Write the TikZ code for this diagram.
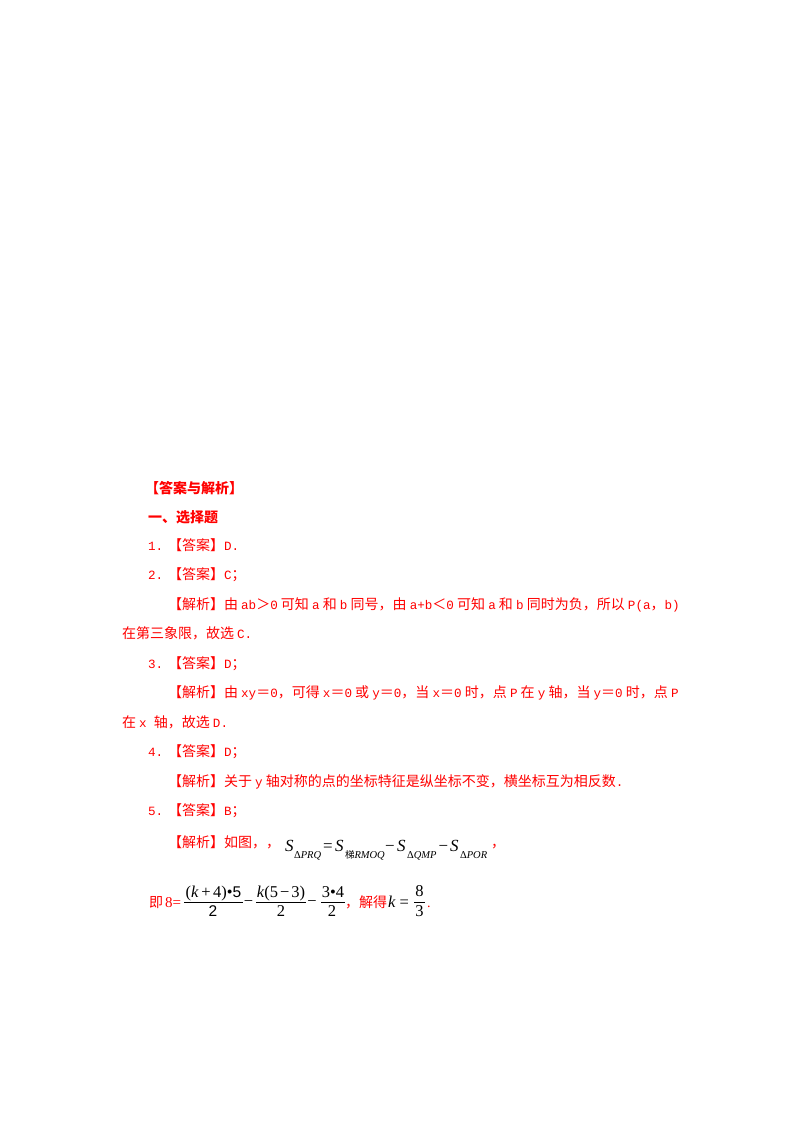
\documentclass[tikz,border=0pt]{standalone}
\usepackage{fontspec}
\setmainfont{Liberation Serif}
\newfontfamily\cjk{Noto Sans CJK SC}
\newfontfamily\latm[Scale=0.9]{Liberation Mono}
\newfontfamily\ars{Liberation Sans}
\newcommand\lt[1]{{\latm #1}}
\begin{document}
\begin{tikzpicture}[x=1pt,y=-1pt,
  txt/.style={anchor=base west,inner sep=0pt,outer sep=0pt,text=red,font=\cjk\fontsize{14}{16}\selectfont},
  hd/.style={txt,font=\cjk\bfseries\fontsize{14}{16}\selectfont},
  mth/.style={anchor=base,inner sep=0pt,outer sep=0pt,text=black,font=\rmfamily\fontsize{16.5}{18}\selectfont},
  bigs/.style={mth,anchor=base west,font=\rmfamily\itshape\fontsize{17}{19}\selectfont},
  subs/.style={mth,anchor=base west,font=\rmfamily\fontsize{10.5}{12}\selectfont},
  fbar/.style={line width=0.7pt,black}]
\useasboundingbox (0,0) rectangle (800,1132);
\fill[white] (0,0) rectangle (800,1132);
% headings
\node[hd] (h1) at (145,493) {【答案与解析】};
\node[hd] (h2) at (148,522) {一、选择题};
% 1
\node[txt] (n1) at (148,550) {\lt{1.}};
\node[txt] (a1) at (168,550) {【答案】\lt{D.}};
% 2
\node[txt] (n2) at (148,579.5) {\lt{2.}};
\node[txt] (a2) at (168,579.5) {【答案】\lt{C}；};
\node[txt] (j2) at (168,609) {【解析】由 \lt{ab}＞\lt{0} 可知 \lt{a} 和 \lt{b} 同号，由 \lt{a+b}＜\lt{0} 可知 \lt{a} 和 \lt{b} 同时为负，所以 \lt{P(a}，\lt{b)}};
\node[txt] (j2b) at (122,638.5) {在第三象限，故选 \lt{C.}};
% 3
\node[txt] (n3) at (148,668) {\lt{3.}};
\node[txt] (a3) at (168,668) {【答案】\lt{D}；};
\node[txt] (j3) at (168,697.5) {【解析】由 \lt{xy}＝\lt{0}，可得 \lt{x}＝\lt{0} 或 \lt{y}＝\lt{0}，当 \lt{x}＝\lt{0} 时，点 \lt{P} 在 \lt{y} 轴，当 \lt{y}＝\lt{0} 时，点 \lt{P}};
\node[txt] (j3b) at (122,727) {在 \lt{x}\hspace{4pt} 轴，故选 \lt{D.}};
% 4
\node[txt] (n4) at (148,756.5) {\lt{4.}};
\node[txt] (a4) at (168,756.5) {【答案】\lt{D}；};
\node[txt] (j4) at (168,786) {【解析】关于 \lt{y} 轴对称的点的坐标特征是纵坐标不变，横坐标互为相反数\lt{.}};
% 5
\node[txt] (n5) at (148,815.5) {\lt{5.}};
\node[txt] (a5) at (168,815.5) {【答案】\lt{B}；};
\node[txt] (j5) at (168,847) {【解析】如图，，};
% S formula
\node[bigs] (s1) at (285,851) {S};
\node[subs] (b1) at (294,858) {Δ\textit{PRQ}};
\node[mth,anchor=base west,font=\rmfamily\fontsize{17}{19}\selectfont] (e1) at (323,851) {=};
\node[bigs] (s2) at (335,851) {S};
\node[subs] (b2) at (345,858) {{\cjk\fontsize{9.5}{11}\selectfont 梯}\textit{RMOQ}};
\node[mth,anchor=base west,font=\rmfamily\fontsize{17}{19}\selectfont] (e2) at (385,851) {−};
\node[bigs] (s3) at (397,851) {S};
\node[subs] (b3) at (407,858) {Δ\textit{QMP}};
\node[mth,anchor=base west,font=\rmfamily\fontsize{17}{19}\selectfont] (e3) at (438.5,851) {−};
\node[bigs] (s4) at (450,851) {S};
\node[subs] (b4) at (460,858) {Δ\textit{POR}};
\node[txt] (c5) at (491,847) {，};
% last line
\node[txt] (ji) at (149,907) {即\hspace{2pt}{\rmfamily\fontsize{15}{16}\selectfont 8=}};
\node[mth] (fn1) at (213.5,897) {(\textit{k}\hspace{2.5pt}+\hspace{2.5pt}4)•{\ars\fontsize{15.5}{17}\selectfont 5}};
\draw[fbar] (184,902.5) -- (243,902.5);
\node[mth,font=\ars\fontsize{15.5}{17}\selectfont] (fd1) at (213,916.5) {2};
\node[mth] (mi1) at (248.5,906.6) {−};
\node[mth] (fn2) at (281,897) {\textit{k}(5\hspace{2pt}−\hspace{2pt}3)};
\draw[fbar] (256,902.5) -- (306,902.5);
\node[mth] (fd2) at (281,916.5) {2};
\node[mth] (mi2) at (312,906.6) {−};
\node[mth] (fn3) at (333,897) {3•4};
\draw[fbar] (321,902.5) -- (345,902.5);
\node[mth] (fd3) at (332,916.5) {2};
\node[txt] (jd) at (345,907) {，解得};
\node[mth,anchor=base west] (kk) at (388,907) {\textit{k}\hspace{4pt}=};
\node[mth] (fn4) at (419.5,896.5) {8};
\draw[fbar] (414,902.5) -- (425,902.5);
\node[mth] (fd4) at (419.5,916.5) {3};
\node[txt,font=\rmfamily\fontsize{14}{16}\selectfont] (dt) at (427,907) {.};
\end{tikzpicture}
\end{document}
